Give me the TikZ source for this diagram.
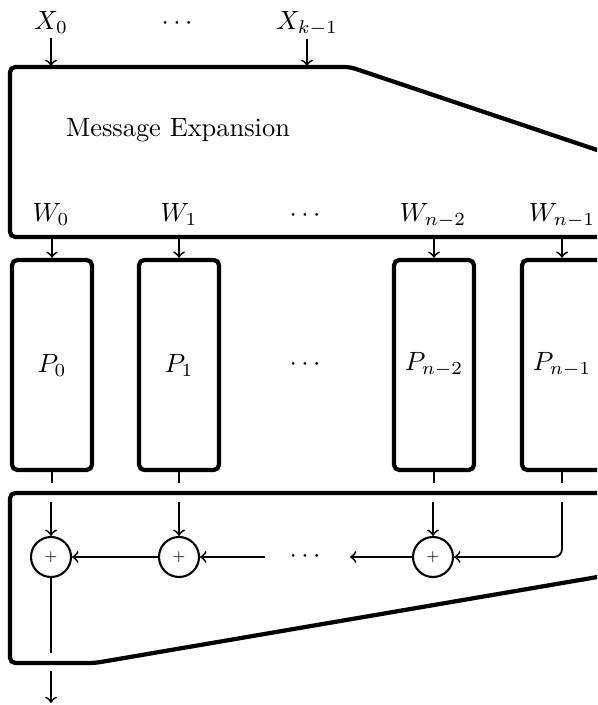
\documentclass[tikz,border=0pt]{standalone}
\usetikzlibrary{calc}
\begin{document}
\begin{tikzpicture}[x=0.3785pt,y=-0.3785pt,
  border/.style={line width=1.6pt, rounded corners=2pt},
  pbox/.style={draw, line width=1.6pt, rounded corners=2pt, minimum width=30.28pt, minimum height=79.5pt, inner sep=0pt},
  adder/.style={draw, circle, line width=0.8pt, minimum size=15.14pt, inner sep=0pt, font=\tiny},
  conn/.style={line width=0.7pt},
  arr/.style={conn, ->},
  lbl/.style={anchor=base, inner sep=0pt}]
\useasboundingbox (0,0) rectangle (597,705);
\clip (0,0) rectangle (597,705);

% top labels
\node[lbl] (x0) at (51,30) {$X_0$};
\node[lbl] (xd) at (177,30) {$\cdots$};
\node[lbl] (xk) at (307,30) {$X_{k-1}$};

% message expansion box
\draw[border] (10,150) -- (10,67) -- (350,67) -- (615,156) -- (615,237) -- (10,237) -- cycle;
\node[lbl] (me) at (178,137) {Message Expansion};

\coordinate (tb) at (0,66);
\coordinate (bb) at (0,237);
\draw[arr] ($(x0)+(0,15)$) -- (x0 |- tb);
\draw[arr] ($(xk)+(0,15)$) -- (xk |- tb);

% W labels
\node[lbl] (w0) at (51,222) {$W_0$};
\node[lbl] (w1) at (179,222) {$W_1$};
\node[lbl] (wd) at (305,222) {$\cdots$};
\node[lbl] (w2) at (433,222) {$W_{n-2}$};
\node[lbl] (w3) at (562,222) {$W_{n-1}$};

% P boxes
\node[pbox] (p0) at (52,365) {$P_0$};
\node[pbox] (p1) at (179,365) {$P_1$};
\node (pd) at (305,365) {$\cdots$};
\node[pbox] (p2) at (434,365) {$P_{n-2}$};
\node[pbox] (p3) at (562,365) {$P_{n-1}$};

\foreach \w/\p in {w0/p0, w1/p1, w2/p2, w3/p3}
  \draw[arr] (\p |- bb) -- (\p.north);

% bottom box
\draw[border] (10,580) -- (10,493) -- (615,493) -- (615,574) -- (95,663) -- (10,663) -- cycle;

% adders
\node[adder] (c0) at (51,557) {$+$};
\node[adder] (c1) at (179,557) {$+$};
\node (cd) at (305,557) {$\cdots$};
\node[adder] (c2) at (433,557) {$+$};

\coordinate (g1) at (0,483);
\coordinate (g2) at (0,502);
\foreach \p/\c in {p0/c0, p1/c1, p2/c2} {
  \draw[conn] (\p.south) -- (\p.south |- g1);
  \draw[arr] (\c |- g2) -- (\c.north);
}
\draw[conn] (p3.south) -- (p3.south |- g1);
\draw[arr, rounded corners=3pt] (p3.south |- g2) -- (p3.south |- c2) -- (c2.east);

\coordinate (dl) at (265,557);
\coordinate (dr) at (350,557);
\draw[arr] (c1.west) -- (c0.east);
\draw[arr] (dl) -- (c1.east);
\draw[arr] (c2.west) -- (dr);

\coordinate (o1) at (51,653);
\coordinate (o2) at (51,671);
\coordinate (o3) at (51,703);
\draw[conn] (c0.south) -- (o1);
\draw[arr] (o2) -- (o3);
\end{tikzpicture}
\end{document}
